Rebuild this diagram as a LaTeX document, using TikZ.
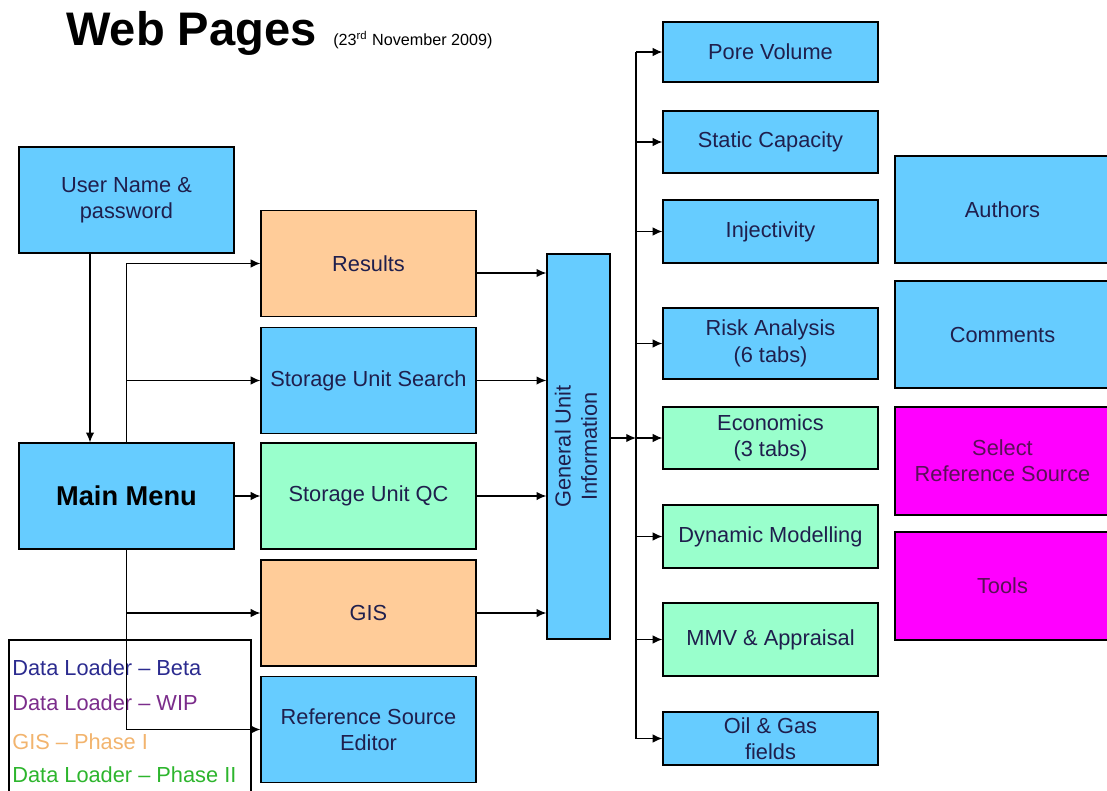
\documentclass[tikz,border=0pt]{standalone}
\usepackage{fontspec}
\setmainfont{Liberation Sans}
\usepackage{tikz}
\usetikzlibrary{positioning,calc,arrows.meta}
\definecolor{skyblue}{HTML}{66CCFF}
\definecolor{peach}{HTML}{FFCC99}
\definecolor{mint}{HTML}{99FFCC}
\definecolor{magentabox}{HTML}{FF00FF}
\definecolor{navytext}{HTML}{1F1F4D}
\definecolor{plumtext}{HTML}{5A1058}
\definecolor{betablue}{HTML}{2B2B8F}
\definecolor{wippurple}{HTML}{7B2D8B}
\definecolor{gisorange}{HTML}{F2B46E}
\definecolor{phasegreen}{HTML}{2DB52D}

\tikzset{
	box/.style={draw,line width=0.8pt,inner sep=1pt,align=center,text=navytext,font=\fontsize{12.4}{15}\selectfont},
	bigbox/.style={box,minimum width=4.3cm,minimum height=2.12cm},
	pagebox/.style={box,minimum width=4.3cm},
	sidebox/.style={box,minimum width=4.3cm,minimum height=2.14cm},
	legtxt/.style={anchor=base west,inner sep=0pt,font=\fontsize{12.4}{15}\selectfont},
	line/.style={line width=0.7pt},
	arr/.style={line width=0.7pt,-{Latex[length=5.5pt,width=4.8pt]}}
}

\begin{document}
\begin{tikzpicture}[x=0.02cm,y=-0.02cm]
		
		\useasboundingbox (0,0) rectangle (1107,791);
		
		\node[anchor=base west,inner sep=0pt,font=\fontsize{26.8}{30}\selectfont\bfseries] (title) at (66,46) {Web Pages};
		\node[anchor=base west,inner sep=0pt,font=\fontsize{9.2}{10}\selectfont] (date) at (333,46) {(23\textsuperscript{rd} November 2009)};
		
		% left side
		\node[bigbox,fill=skyblue] (UN) at (126.5,200) {User Name \&\\password};
		\node[bigbox,fill=skyblue,text=black,font=\fontsize{15.5}{18}\selectfont\bfseries] (MM) at (126.5,496) {Main Menu};
		
		\node[bigbox,fill=peach] (RES) at (368.5,263.5) {Results};
		\node[bigbox,fill=skyblue] (SUS) at (368.5,380.5) {Storage Unit Search};
		\node[bigbox,fill=mint] (SUQC) at (368.5,496) {Storage Unit QC};
		\node[bigbox,fill=peach] (GIS) at (368.5,613) {GIS};
		\node[bigbox,fill=skyblue] (RSE) at (368.5,729.5) {Reference Source\\Editor};
		
		\node[box,fill=skyblue,minimum width=1.26cm,minimum height=7.7cm] (GUI) at (578.5,446.5) {\rotatebox{90}{\begin{tabular}{@{}c@{}}General Unit\\Information\end{tabular}}};
		
		% pages
		\node[pagebox,fill=skyblue,minimum height=1.2cm] (PV) at (770.5,52) {Pore Volume};
		\node[pagebox,fill=skyblue,minimum height=1.24cm] (SC) at (770.5,142) {Static Capacity};
		\node[pagebox,fill=skyblue,minimum height=1.26cm] (INJ) at (770.5,231.5) {Injectivity};
		\node[pagebox,fill=skyblue,minimum height=1.42cm] (RA) at (770.5,343.5) {Risk Analysis\\(6 tabs)};
		\node[pagebox,fill=mint,minimum height=1.24cm] (ECO) at (770.5,438) {Economics\\(3 tabs)};
		\node[pagebox,fill=mint,minimum height=1.26cm] (DM) at (770.5,536.5) {Dynamic Modelling};
		\node[pagebox,fill=mint,minimum height=1.46cm] (MMV) at (770.5,639.5) {MMV \& Appraisal};
		\node[pagebox,fill=skyblue,minimum height=1.06cm,inner sep=0pt] (OG) at (770.5,738.5) {Oil \& Gas\\fields};
		
		\node[sidebox,fill=skyblue] (AUT) at (1002.5,209.5) {Authors};
		\node[sidebox,fill=skyblue] (COM) at (1002.5,334.5) {Comments};
		\node[sidebox,fill=magentabox,text=plumtext,minimum height=2.16cm] (SRS) at (1002.5,461) {Select\\Reference Source};
		\node[sidebox,fill=magentabox,text=plumtext,minimum height=2.16cm] (TOOL) at (1002.5,586) {Tools};
		
		% legend
		\draw[line] (9,800) |- (251,640) -- (251,800);
		\node[legtxt,text=betablue] (L1) at (12,675) {Data Loader -- Beta};
		\node[legtxt,text=wippurple] (L2) at (12,710) {Data Loader -- WIP};
		\node[legtxt,text=gisorange] (L3) at (12,749) {GIS -- Phase I};
		\node[legtxt,text=phasegreen] (L4) at (12,782) {Data Loader -- Phase II};
		
		% connectors
		\draw[arr] ($(UN.south)+(-36.5,0)$) -- ($(MM.north)+(-36.5,0)$);
		\draw[arr] (MM.north) |- (RES.west);
		\draw[arr] (MM.north) |- (SUS.west);
		\draw[arr] (MM.east) -- (SUQC.west);
		\draw[arr] (MM.south) |- (GIS.west);
		\draw[arr] (MM.south) |- (RSE.west);
		
		\draw[arr] ($(RES.east)+(0,9.5)$) coordinate (r1) -- (r1 -| GUI.west);
		\draw[arr] (SUS.east) -- (SUS.east -| GUI.west);
		\draw[arr] (SUQC.east) -- (SUQC.east -| GUI.west);
		\draw[arr] (GIS.east) -- (GIS.east -| GUI.west);
		
		\coordinate (spine) at (636,0);
		\draw[line] (spine |- PV.west) -- (spine |- OG.west);
		\draw[arr] (GUI.east |- ECO.west) -- (spine |- ECO.west);
		\foreach \p in {PV,SC,INJ,RA,ECO,DM,MMV,OG}
		\draw[arr] (spine |- \p.west) -- (\p.west);
		
\end{tikzpicture}
\end{document}
